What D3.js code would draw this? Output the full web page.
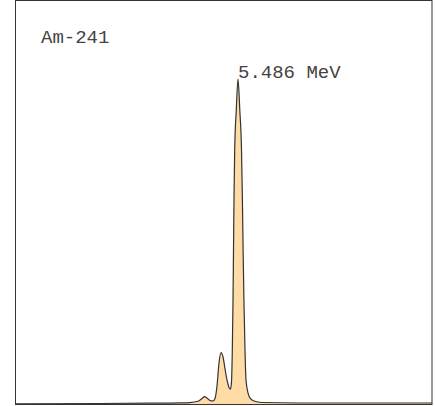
<!DOCTYPE html>
<html><head><meta charset="utf-8">
<script src="https://cdn.jsdelivr.net/npm/d3@7"></script>
<style>body{margin:0;background:#fff}svg{display:block}</style>
</head><body>
<svg id="c" width="435" height="406"></svg>
<script>
const energy = [4.8865,5.1150,5.2494,5.3301,5.3570,5.3785,5.3892,5.3959,5.4027,5.4107,5.4188,5.4242,5.4295,5.4349,5.4403,5.4457,5.4511,5.4564,5.4618,5.4658,5.4685,5.4707,5.4726,5.4739,5.4752,5.4771,5.4814,5.486,5.4908,5.4954,5.4978,5.4997,5.5019,5.5048,5.5075,5.5129,5.5183,5.5290,5.5505,5.6527,6.0075];
const counts = [0.0006,0.0015,0.0025,0.0034,0.0043,0.0083,0.0169,0.0225,0.0185,0.0108,0.0092,0.0169,0.0554,0.126,0.158,0.145,0.108,0.074,0.051,0.046,0.068,0.166,0.320,0.474,0.628,0.782,0.905,1.0,0.905,0.782,0.628,0.474,0.320,0.166,0.074,0.034,0.018,0.0092,0.0046,0.0031,0.0031];
const title = "Am-241";
const peakLabel = "5.486 MeV";
const peakEnergy = 5.486;

const svg = d3.select("#c");
const x = d3.scaleLinear().domain([4.8865, 6.0075]).range([15, 432]);
const y = d3.scaleLinear().domain([0, 1]).range([404, 79]);
const pts = energy.map((e, i) => ({e, c: counts[i]}));

svg.append("path").datum(pts)
  .attr("fill", "#ffdca6")
  .attr("d", d3.area().x(d => x(d.e)).y0(y(0)).y1(d => y(d.c)).curve(d3.curveMonotoneX));
svg.append("path").datum(pts)
  .attr("fill", "none").attr("stroke", "#333").attr("stroke-width", 1.2)
  .attr("d", d3.line().x(d => x(d.e)).y(d => y(d.c)).curve(d3.curveMonotoneX));

svg.append("rect").attr("x", 15.5).attr("y", 0.5).attr("width", 416.5).attr("height", 404)
  .attr("fill", "none").attr("stroke", "#333").attr("stroke-width", 1);

svg.append("text").attr("x", 41).attr("y", 43)
  .attr("font-family", "Liberation Mono, Courier New, monospace").attr("font-size", 19)
  .attr("fill", "#444").text(title);
svg.append("text").attr("x", x(peakEnergy)).attr("y", 78)
  .attr("font-family", "Liberation Mono, Courier New, monospace").attr("font-size", 19)
  .attr("fill", "#444").text(peakLabel);
</script>
</body></html>
